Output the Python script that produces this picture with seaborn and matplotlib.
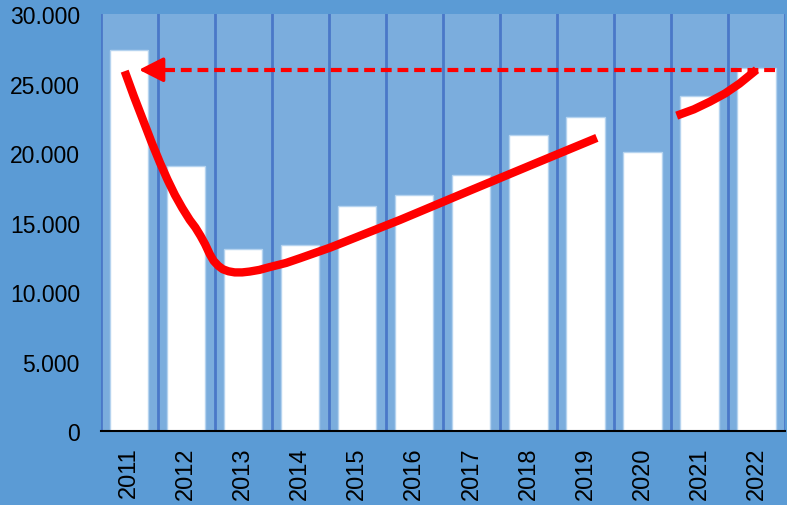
import numpy as np
import pandas as pd
import matplotlib
matplotlib.use("Agg")
import matplotlib.pyplot as plt
import seaborn as sns
from matplotlib.ticker import FuncFormatter, MultipleLocator

# --- data ---
years = ["2011", "2012", "2013", "2014", "2015", "2016",
         "2017", "2018", "2019", "2020", "2021", "2022"]
values = [27400, 19100, 13100, 13400, 16200, 17000,
          18400, 21300, 22600, 20100, 24100, 26100]

# hand-drawn trend line (category position, value); NaN = gap
trend_x = [-0.08, 0.08, 0.24, 0.39, 0.54, 0.67, 0.80, 0.93, 1.06, 1.16, 1.25, 1.33,
           1.41, 1.48, 1.56, 1.64, 1.74, 1.85, 1.98, 2.11, 2.28, 2.46,
           2.75, 3.0, 3.52, 4.75, 5.97, 7.2, 8.2,
           np.nan,
           9.6, 9.9, 10.18, 10.45, 10.7, 11.0]
trend_y = [25900, 24100, 22400, 20800, 19300, 18100, 17000, 16050, 15200, 14650, 14050, 13450,
           12750, 12250, 11900, 11650, 11500, 11420, 11420, 11480, 11600, 11800,
           12100, 12450, 13200, 15200, 17300, 19400, 21100,
           np.nan,
           22700, 23150, 23700, 24300, 25000, 26000]

# dashed reference arrow (from 2022 level back to 2011)
arrow_start = (11.33, 26000)
arrow_end = (0.17, 26000)

df = pd.DataFrame({"year": years, "value": values})

outer_bg = "#5B9BD5"
plot_bg = "#7BADDD"
grid_col = "#4A78C8"

plt.rcParams["font.family"] = ["Liberation Sans", "DejaVu Sans"]

fig = plt.figure(figsize=(7.87, 5.06), dpi=100, facecolor=outer_bg)
ax = fig.add_axes([0.128, 0.146, 0.8695, 0.824])
ax.set_facecolor(plot_bg)

sns.barplot(data=df, x="year", y="value", ax=ax, color="white",
            width=0.67, saturation=1, edgecolor="#B5D3EF", linewidth=1,
            zorder=2)

# category boundary lines
for b in np.arange(-0.5, len(years) + 0.5, 1):
    ax.axvline(b, color=grid_col, lw=2, zorder=3)

ax.plot(trend_x, trend_y, color="#FF0000", lw=6, solid_capstyle="butt",
        solid_joinstyle="round", zorder=5)

# dashed shaft + solid arrow head
ax.plot([arrow_start[0], arrow_end[0] + 0.2], [arrow_start[1], arrow_end[1]],
        color="#FF0000", lw=3, dashes=(2.6, 1.4), zorder=6)
ax.annotate("", xy=arrow_end, xytext=(arrow_end[0] + 0.3, arrow_end[1]),
            arrowprops=dict(arrowstyle="-|>,head_length=0.75,head_width=0.38",
                            color="#FF0000", lw=2.5, mutation_scale=20,
                            shrinkA=0, shrinkB=0),
            zorder=6)

ax.set_xlim(-0.5, len(years) - 0.5)
ax.set_ylim(0, 30000)
ax.yaxis.set_major_locator(MultipleLocator(5000))
ax.yaxis.set_major_formatter(FuncFormatter(lambda v, p: f"{v:,.0f}".replace(",", ".")))

ax.set_xlabel("")
ax.set_ylabel("")
ax.tick_params(axis="x", labelsize=17, rotation=90, length=0, pad=11)
ax.tick_params(axis="y", labelsize=16.5, length=0, pad=15)

for s in ["top", "right", "left"]:
    ax.spines[s].set_visible(False)
ax.spines["bottom"].set_color("black")
ax.spines["bottom"].set_linewidth(1.5)
ax.spines["bottom"].set_zorder(7)

fig.savefig("out.png", dpi=100, facecolor=outer_bg)
